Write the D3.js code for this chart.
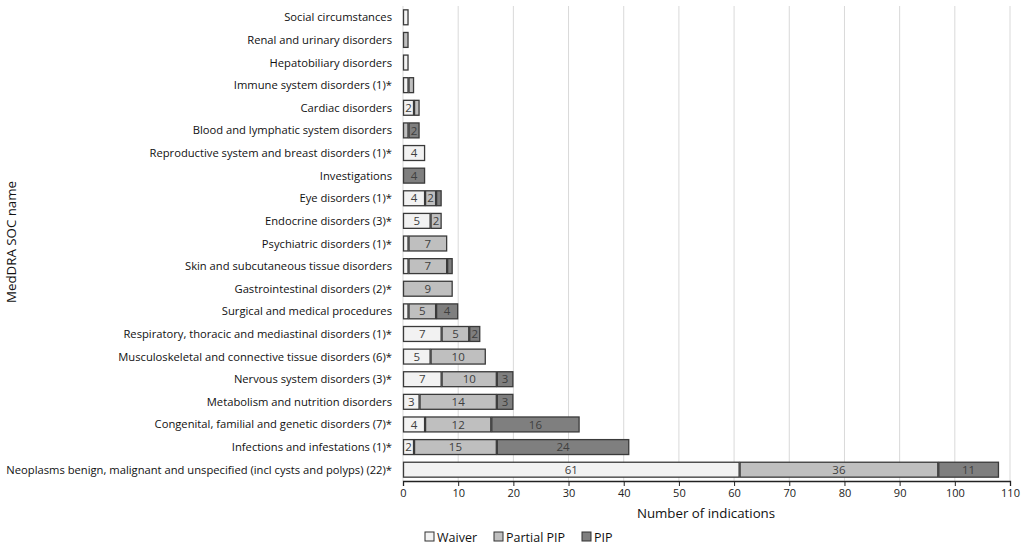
<!DOCTYPE html>
<html><head><meta charset="utf-8">
<script src="https://cdn.jsdelivr.net/npm/d3@7"></script>
<style>body{margin:0;background:#fff;} text{font-family:"Open Sans","Noto Sans",sans-serif;}</style>
</head><body><svg id="c" width="1021" height="549"></svg>
<script>
const categories = [
  "Social circumstances",
  "Renal and urinary disorders",
  "Hepatobiliary disorders",
  "Immune system disorders (1)*",
  "Cardiac disorders",
  "Blood and lymphatic system disorders",
  "Reproductive system and breast disorders (1)*",
  "Investigations",
  "Eye disorders (1)*",
  "Endocrine disorders (3)*",
  "Psychiatric disorders (1)*",
  "Skin and subcutaneous tissue disorders",
  "Gastrointestinal disorders (2)*",
  "Surgical and medical procedures",
  "Respiratory, thoracic and mediastinal disorders (1)*",
  "Musculoskeletal and connective tissue disorders (6)*",
  "Nervous system disorders (3)*",
  "Metabolism and nutrition disorders",
  "Congenital, familial and genetic disorders (7)*",
  "Infections and infestations (1)*",
  "Neoplasms benign, malignant and unspecified (incl cysts and polyps) (22)*"
];
const waiver     = [1,0,1,1,2,0,4,0,4,5,1,1,0,1,7,5,7,3,4,2,61];
const partialPIP = [0,1,0,1,1,1,0,0,2,2,7,7,9,5,5,10,10,14,12,15,36];
const pip        = [0,0,0,0,0,2,0,4,1,0,0,1,0,4,2,0,3,3,16,24,11];
const seriesNames = ["Waiver","Partial PIP","PIP"];
const xTicks = [0,10,20,30,40,50,60,70,80,90,100,110];

const colors = ["#f2f2f2","#bfbfbf","#7f7f7f"];
const svg = d3.select("#c");
const pL = 403, pR = 1010, pT = 6, pB = 481;
const x = d3.scaleLinear().domain([0,110]).range([pL,pR]);
const y = d3.scaleBand().domain(categories).range([pT, pB]).paddingInner(0.34).paddingOuter(0.17);

// gridlines
svg.append("g").selectAll("line").data(xTicks.slice(1)).join("line")
  .attr("x1",d=>x(d)).attr("x2",d=>x(d)).attr("y1",pT).attr("y2",pB)
  .attr("stroke","#d9d9d9").attr("stroke-width",1);
svg.append("line").attr("x1",pL).attr("x2",pL).attr("y1",pT).attr("y2",pB)
  .attr("stroke","#d9d9d9");

const rows = categories.map((c,i)=>({c, vals:[waiver[i],partialPIP[i],pip[i]]}));
const g = svg.append("g");
rows.forEach(r=>{
  let acc = 0;
  r.vals.forEach((v,k)=>{
    if(v<=0) return;
    const x0 = x(acc), x1 = x(acc+v);
    g.append("rect").attr("x",x0+0.5).attr("y",y(r.c)).attr("width",Math.max(0,x1-x0-1)).attr("height",y.bandwidth())
      .attr("fill",colors[k]).attr("stroke","#3a3a3a").attr("stroke-width",1.3);
    if(v>=2){
      g.append("text").attr("x",(x0+x1)/2).attr("y",y(r.c)+y.bandwidth()/2)
        .attr("dy","0.36em").attr("text-anchor","middle").attr("font-size",11.5)
        .attr("fill","#404040").text(v);
    }
    acc += v;
  });
});

// y labels
const yl = svg.append("g").selectAll("text").data(categories).join("text")
  .attr("x",392).attr("y",d=>y(d)+y.bandwidth()/2).attr("dy","0.36em")
  .attr("text-anchor","end").attr("font-size",12).attr("fill","#111").text(d=>d);
let maxW = 0;
yl.each(function(){ maxW = Math.max(maxW, this.getComputedTextLength()); });
const fs = Math.min(12, 12 * 386 / maxW);
yl.attr("font-size", fs);

// x axis
const xa = svg.append("g").attr("transform",`translate(0,${pB})`)
  .call(d3.axisBottom(x).tickValues(xTicks).tickSize(5).tickPadding(3));
xa.select(".domain").attr("stroke","#222").attr("stroke-width",1.3);
xa.selectAll(".tick line").attr("stroke","#222");
xa.selectAll("text").attr("font-size",11).attr("fill","#222").style("font-family","'Open Sans','Noto Sans',sans-serif");

svg.append("text").attr("x",706).attr("y",518).attr("text-anchor","middle")
  .attr("font-size",13.3).attr("fill","#111").text("Number of indications");
svg.append("text").attr("transform","translate(16,242) rotate(-90)").attr("text-anchor","middle")
  .attr("font-size",13.3).attr("fill","#111").text("MedDRA SOC name");

// legend
const legX = [425, 494, 582];
seriesNames.forEach((n,k)=>{
  svg.append("rect").attr("x",legX[k]).attr("y",532).attr("width",9).attr("height",9)
    .attr("fill",colors[k]).attr("stroke","#333").attr("stroke-width",1);
  svg.append("text").attr("x",legX[k]+12).attr("y",537).attr("dy","0.36em")
    .attr("font-size",12.5).attr("fill","#111").text(n);
});
</script></body></html>
